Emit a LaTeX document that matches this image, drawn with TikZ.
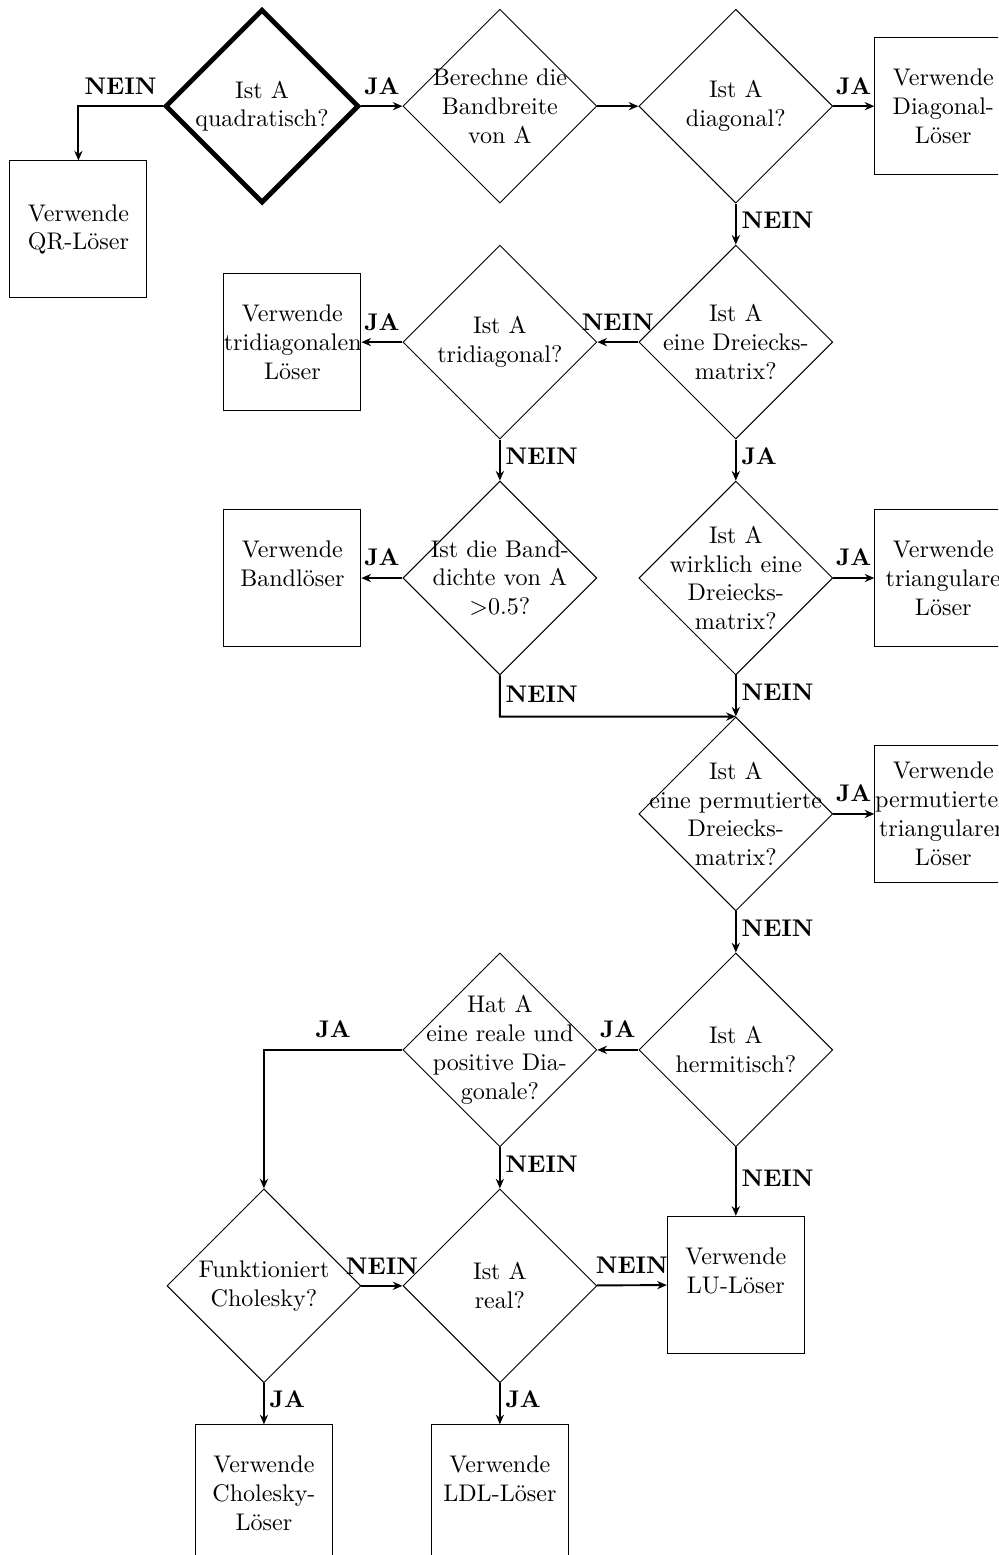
\documentclass[tikz,border=0pt]{standalone}
\usepackage{tikz}
\usetikzlibrary{shapes.geometric, arrows.meta, positioning}

\begin{document}
\begin{tikzpicture}[
    node distance=0.6cm,
    frage/.style={diamond, draw, minimum width=2.83cm, minimum height=2.83cm, inner sep=-10pt, align=center},
    loeser/.style={rectangle, draw, text width=2cm, minimum height=2cm, inner sep=0pt, align=center},
    pfeil/.style={thick, -{Stealth[length=4pt, width=3.4pt]}},
    antwort/.style={font=\bfseries, inner sep=2pt},
]
    % Ausschnitt
    \clip (-3.825,1.55) rectangle (10.745,-21.15);

    % Erste Reihe
    \node[frage, line width=2pt] (quad) {Ist A\\quadratisch?};
    \node[frage, right=of quad] (band) {Berechne die\\Bandbreite\\von A};
    \node[frage, right=of band] (diag) {Ist A\\diagonal?};
    \node[loeser, right=of diag] (diagloeser) {Verwende\\Diagonal-\\Löser};
    \node[loeser] (qr) at ([xshift=-2.68cm, yshift=-1.8cm]quad) {Verwende\\QR-Löser};

    % Dreiecks- und Bandmatrizen
    \node[frage, below=of diag] (dreieck) {Ist A\\eine Dreiecks-\\matrix?};
    \node[frage, left=of dreieck] (tridiag) {Ist A\\tridiagonal?};
    \node[loeser, left=of tridiag] (tridiagloeser) {Verwende\\tridiagonalen\\Löser};
    \node[frage, below=of tridiag] (dichte) {Ist die Band-\\dichte von A\\>0.5?};
    \node[loeser, left=of dichte] (bandloeser) {Verwende\\Bandlöser\\~};
    \node[frage, below=of dreieck] (wirklich) {Ist A\\wirklich eine\\Dreiecks-\\matrix?};
    \node[loeser, right=of wirklich] (triangloeser) {Verwende\\triangulare\\Löser};

    % Permutiert, hermitisch
    \node[frage, below=of wirklich] (perm) {Ist A\\eine permutierte\\Dreiecks-\\matrix?};
    \node[loeser, right=of perm] (permloeser) {Verwende\\permutierten\\triangularen\\Löser};
    \node[frage, below=of perm] (herm) {Ist A\\hermitisch?};
    \node[frage, left=of herm] (hatA) {Hat A\\eine reale und\\positive Dia-\\gonale?};

    % Untere Reihe
    \node[frage, below=of hatA] (real) {Ist A\\real?};
    \node[frage, left=of real] (chol) {Funktioniert\\Cholesky?};
    \node[loeser, below=1cm of herm] (lu) {Verwende\\LU-Löser\\~};
    \node[loeser, below=of chol] (cholloeser) {Verwende\\Cholesky-\\Löser};
    \node[loeser, below=of real] (ldl) {Verwende\\LDL-Löser\\~};

    % Verbindungen
    \draw[pfeil] (quad) -- node[above=2.5pt, antwort] {JA} (band);
    \draw[pfeil] (quad.west) -| node[pos=0.25, above=2.5pt, antwort] {NEIN} (qr.north);
    \draw[pfeil] (band) -- (diag);
    \draw[pfeil] (diag) -- node[above=2.5pt, antwort] {JA} (diagloeser);
    \draw[pfeil] (diag) -- node[pos=0.4, right, antwort] {NEIN} (dreieck);
    \draw[pfeil] (dreieck) -- node[above=2.5pt, antwort] {NEIN} (tridiag);
    \draw[pfeil] (tridiag) -- node[above=2.5pt, antwort] {JA} (tridiagloeser);
    \draw[pfeil] (tridiag) -- node[pos=0.4, right, antwort] {NEIN} (dichte);
    \draw[pfeil] (dreieck) -- node[pos=0.4, right, antwort] {JA} (wirklich);
    \draw[pfeil] (dichte) -- node[above=2.5pt, antwort] {JA} (bandloeser);
    \draw[pfeil] (wirklich) -- node[above=2.5pt, antwort] {JA} (triangloeser);
    \draw[pfeil] (dichte.south) -- node[pos=0.45, right, antwort] {NEIN} ++(0,-0.6) -- (perm.north);
    \draw[pfeil] (wirklich) -- node[pos=0.4, right, antwort] {NEIN} (perm);
    \draw[pfeil] (perm) -- node[above=2.5pt, antwort] {JA} (permloeser);
    \draw[pfeil] (perm) -- node[pos=0.4, right, antwort] {NEIN} (herm);
    \draw[pfeil] (herm) -- node[above=2.5pt, antwort] {JA} (hatA);
    \draw[pfeil] (herm) -- node[pos=0.45, right, antwort] {NEIN} (lu);
    \draw[pfeil] (hatA.west) -| node[pos=0.25, above=2.5pt, antwort] {JA} (chol.north);
    \draw[pfeil] (hatA) -- node[pos=0.4, right, antwort] {NEIN} (real);
    \draw[pfeil] (chol) -- node[above=2.5pt, antwort] {NEIN} (real);
    \draw[pfeil] (real) -- node[above=2.5pt, antwort] {NEIN} (lu);
    \draw[pfeil] (chol) -- node[pos=0.4, right, antwort] {JA} (cholloeser);
    \draw[pfeil] (real) -- node[pos=0.4, right, antwort] {JA} (ldl);
\end{tikzpicture}
\end{document}
